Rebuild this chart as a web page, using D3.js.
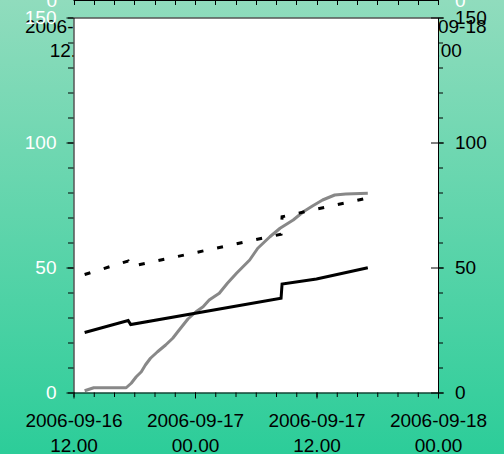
<!DOCTYPE html>
<html>
<head>
<meta charset="utf-8">
<script src="https://cdn.jsdelivr.net/npm/d3@7/dist/d3.min.js"></script>
<style>
  html, body { margin: 0; padding: 0; background: #ffffff; }
  svg { display: block; font-family: "Liberation Sans", Arial, sans-serif; }
</style>
</head>
<body>
<svg id="chart" width="504" height="454"></svg>
<script>
// ---- data ----
const timeDomain = ["2006-09-16 12:00", "2006-09-18 00:00"];
const majorTickTimes = ["2006-09-16 12:00", "2006-09-17 00:00", "2006-09-17 12:00", "2006-09-18 00:00"];
const yDomain = [0, 150];
const yMajorTicks = [0, 50, 100, 150];

// solid black series
const solidTimes = ["2006-09-16 13:06", "2006-09-16 17:24", "2006-09-16 17:39", "2006-09-17 08:30",
                    "2006-09-17 08:36", "2006-09-17 12:00", "2006-09-17 17:04"];
const solidValues = [24.0, 28.8, 27.2, 37.7, 43.4, 45.4, 49.9];

// dotted black series
const dottedTimes = ["2006-09-16 13:06", "2006-09-16 17:24", "2006-09-16 17:39", "2006-09-17 08:30",
                     "2006-09-17 08:36", "2006-09-17 17:04"];
const dottedValues = [47.2, 52.6, 50.4, 63.3, 70.3, 77.8];

// grey series
const greyTimes = ["2006-09-16 13:06", "2006-09-16 14:00", "2006-09-16 17:12", "2006-09-16 17:42",
                   "2006-09-16 18:12", "2006-09-16 18:42", "2006-09-16 19:06", "2006-09-16 19:36",
                   "2006-09-16 20:18", "2006-09-16 21:06", "2006-09-16 21:48", "2006-09-16 22:18",
                   "2006-09-16 23:18", "2006-09-17 00:06", "2006-09-17 00:48", "2006-09-17 01:24",
                   "2006-09-17 02:24", "2006-09-17 03:12", "2006-09-17 04:06", "2006-09-17 05:24",
                   "2006-09-17 06:12", "2006-09-17 07:24", "2006-09-17 08:24", "2006-09-17 09:42",
                   "2006-09-17 10:42", "2006-09-17 11:36", "2006-09-17 12:36", "2006-09-17 13:48",
                   "2006-09-17 14:54", "2006-09-17 17:04"];
const greyValues = [0.7, 1.9, 1.9, 3.7, 6.3, 8.3, 11.0, 13.7, 16.3, 19.0, 21.7, 24.3,
                    29.4, 32.3, 34.3, 37.0, 39.7, 43.7, 47.7, 53.0, 57.7, 62.3, 65.7, 69.0,
                    72.3, 74.6, 77.0, 79.0, 79.4, 79.7];

// ---- setup ----
const parse = d3.timeParse("%Y-%m-%d %H:%M");
const W = 504, H = 454;
const plot = { left: 73.5, right: 438, top: 17.5, bottom: 392.5 };
const FONT = 19;

const svg = d3.select("#chart");

const x = d3.scaleTime().domain(timeDomain.map(parse)).range([plot.left, plot.right]);
const y = d3.scaleLinear().domain(yDomain).range([plot.bottom, plot.top]);

const minorTimes = d3.timeHour.every(2).range(x.domain()[0], d3.timeMinute.offset(x.domain()[1], 1));
const majorTimes = majorTickTimes.map(parse);
const yMinor = d3.range(0, 151, 10);

const fmtDay = d3.timeFormat("%Y-%m-%d");
const fmtHour = d3.timeFormat("%H.%M");

// background gradient
const defs = svg.append("defs");
const grad = defs.append("linearGradient").attr("id", "bg").attr("x1", 0).attr("y1", 0).attr("x2", 0).attr("y2", 1);
grad.append("stop").attr("offset", "0%").attr("stop-color", "#90dcbd");
grad.append("stop").attr("offset", "100%").attr("stop-color", "#2ccd99");
svg.append("rect").attr("width", W).attr("height", H).attr("fill", "url(#bg)");

// secondary time axis along the top edge
const topY = 0.5;
const topG = svg.append("g").attr("class", "top-axis");
topG.append("line").attr("x1", plot.left).attr("x2", plot.right).attr("y1", topY).attr("y2", topY)
  .attr("stroke", "#000").attr("stroke-width", 1);
topG.selectAll("line.tk").data(minorTimes).join("line").attr("class", "tk")
  .attr("x1", d => Math.round(x(d)) + 0.5).attr("x2", d => Math.round(x(d)) + 0.5)
  .attr("y1", 0).attr("y2", 5).attr("stroke", "#000");
[majorTimes[0], majorTimes[3]].forEach(d => {
  const t = topG.append("text").attr("x", x(d)).attr("text-anchor", "middle")
    .attr("font-size", FONT).attr("fill", "#000");
  t.append("tspan").attr("x", x(d)).attr("y", 33).text(fmtDay(d));
  t.append("tspan").attr("x", x(d)).attr("y", 57).text(fmtHour(d));
});
topG.append("text").attr("x", 57).attr("y", 0).attr("dy", "0.35em").attr("text-anchor", "end")
  .attr("font-size", FONT).attr("fill", "#fff").text("0");
topG.append("text").attr("x", 455).attr("y", 0).attr("dy", "0.35em").attr("text-anchor", "start")
  .attr("font-size", FONT).attr("fill", "#fff").text("0");

// plot area
svg.append("rect").attr("x", plot.left).attr("y", plot.top)
  .attr("width", plot.right - plot.left).attr("height", plot.bottom - plot.top)
  .attr("fill", "#fff");
svg.append("line").attr("x1", plot.left).attr("x2", plot.right).attr("y1", plot.top + 0.5).attr("y2", plot.top + 0.5)
  .attr("stroke", "#000");

// series
const line = d3.line().x(d => x(d.t)).y(d => y(d.v));
const zipSeries = (ts, vs) => ts.map((t, i) => ({ t: parse(t), v: vs[i] }));

svg.append("path").datum(zipSeries(greyTimes, greyValues)).attr("d", line)
  .attr("fill", "none").attr("stroke", "#888888").attr("stroke-width", 3).attr("stroke-linejoin", "round");
svg.append("path").datum(zipSeries(dottedTimes, dottedValues)).attr("d", line)
  .attr("fill", "none").attr("stroke", "#000").attr("stroke-width", 3).attr("stroke-dasharray", "6,14");
svg.append("path").datum(zipSeries(solidTimes, solidValues)).attr("d", line)
  .attr("fill", "none").attr("stroke", "#000").attr("stroke-width", 3);

// bottom axis: minor ticks every 2 h, labelled major ticks every 12 h
svg.append("g").attr("transform", `translate(0,${plot.bottom})`)
  .call(d3.axisBottom(x).tickValues(minorTimes).tickSize(4.5).tickFormat(""))
  .call(g => g.select(".domain").remove());
const xAxisG = svg.append("g").attr("transform", `translate(0,${plot.bottom})`)
  .call(d3.axisBottom(x).tickValues(majorTimes).tickSize(6).tickSizeOuter(0));
xAxisG.selectAll(".tick text").each(function (d) {
  const t = d3.select(this);
  t.text(null).attr("y", null).attr("dy", null).attr("font-size", FONT).attr("fill", "#000");
  t.append("tspan").attr("x", 0).attr("y", 34.5).text(fmtDay(d));
  t.append("tspan").attr("x", 0).attr("y", 59).text(fmtHour(d));
});
xAxisG.attr("font-family", null);

// left axis (white labels)
svg.append("g").attr("transform", `translate(${plot.left},0)`)
  .call(d3.axisLeft(y).tickValues(yMinor).tickSize(5.5).tickFormat(""))
  .call(g => g.select(".domain").remove());
const yLeft = svg.append("g").attr("transform", `translate(${plot.left},0)`)
  .call(d3.axisLeft(y).tickValues(yMajorTicks).tickSize(7).tickSizeOuter(0).tickPadding(10));
yLeft.attr("font-family", null);
yLeft.selectAll(".tick text").attr("font-size", FONT).attr("fill", "#fff");

// right axis (black labels, major ticks cross the frame)
svg.append("g").attr("transform", `translate(${plot.right},0)`)
  .call(d3.axisRight(y).tickValues(yMinor).tickSize(5).tickFormat(""))
  .call(g => g.select(".domain").remove());
const yRight = svg.append("g").attr("transform", `translate(${plot.right},0)`)
  .call(d3.axisRight(y).tickValues(yMajorTicks).tickSize(6).tickSizeOuter(0).tickPadding(11));
yRight.attr("font-family", null);
yRight.selectAll(".tick line").attr("x1", -7);
yRight.selectAll(".tick text").attr("font-size", FONT).attr("fill", "#000");
</script>
</body>
</html>
